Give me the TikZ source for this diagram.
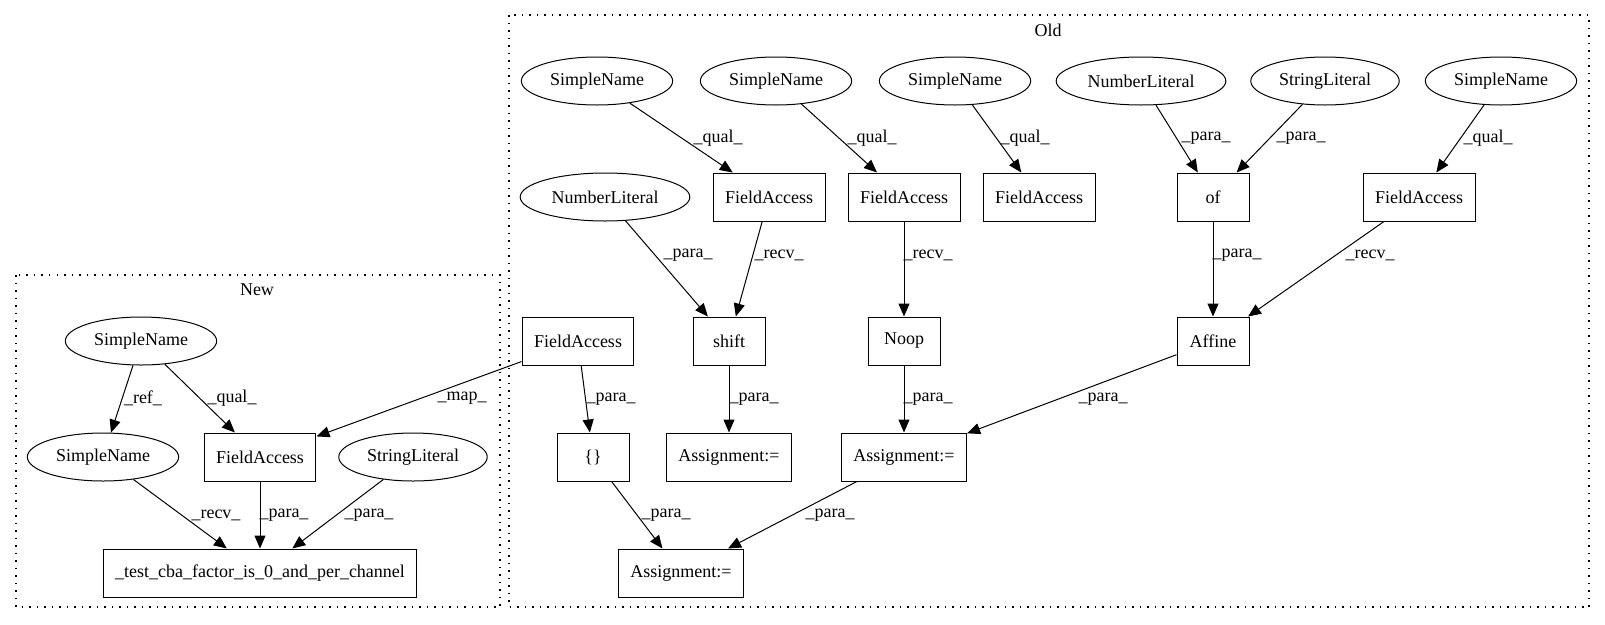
\documentclass[tikz,border=0pt]{standalone}
\usepackage{fontspec}
\setmainfont{Liberation Serif}
\usetikzlibrary{arrows.meta, shapes.geometric}

\begin{document}
\begin{tikzpicture}[
        x=1pt, y=-1pt,
        font=\fontsize{18}{22}\selectfont,
        op/.style={draw, line width=1pt, minimum width=72pt, minimum height=48pt, inner xsep=12pt},
        ast/.style={draw, ellipse, line width=1pt, minimum height=48pt, inner xsep=6.5pt, inner ysep=0pt},
        edge/.style={line width=1pt, -{Triangle[length=13pt, width=11pt]}},
        lbl/.style={inner sep=0pt},
        cluster/.style={line width=1.4pt, dash pattern=on 1.5pt off 6pt}
    ]
        \useasboundingbox (0,0) rectangle (1605,624);

        % Clusters
        \draw[cluster] (16,275) rectangle (500,607);
        \node (newtitle) at (257,290) {New};
        \draw[cluster] (509,15) rectangle (1589,607);
        \node (oldtitle) at (1048,30) {Old};

        % New
        \node[ast] (snA) at (141,341) {SimpleName};
        \node[ast] (snB) at (103,457) {SimpleName};
        \node[op]  (fa6) at (260,457) {FieldAccess};
        \node[ast] (sl1) at (413,457) {StringLiteral};
        \node[op]  (test) at (260,573) {\_test\_cba\_factor\_is\_0\_and\_per\_channel};

        % Old, top row
        \node[ast] (sn1) at (597,81) {SimpleName};
        \node[ast] (sn2) at (776,81) {SimpleName};
        \node[ast] (sn3) at (955,81) {SimpleName};
        \node[ast] (nl2) at (1141,81) {NumberLiteral};
        \node[ast] (sl2) at (1325,81) {StringLiteral};
        \node[ast] (sn4) at (1501,81) {SimpleName};

        % Old, second row
        \node[ast] (nl1) at (605,197) {NumberLiteral};
        \node[op]  (fa1) at (769,197) {FieldAccess};
        \node[op]  (fa2) at (904,197) {FieldAccess};
        \node[op]  (fa3) at (1039,197) {FieldAccess};
        \node[op]  (of)  at (1213,197) {of};
        \node[op]  (fa4) at (1419,197) {FieldAccess};

        % Old, calls
        \node[op] (fa5)    at (578,341) {FieldAccess};
        \node[op] (shift)  at (729,341) {shift};
        \node[op] (noop)   at (904,341) {Noop};
        \node[op] (affine) at (1213,341) {Affine};

        % Old, assignments
        \node[op] (br)  at (593,457) {\{\}};
        \node[op] (as1) at (729,457) {Assignment:=};
        \node[op] (as2) at (904,457) {Assignment:=};
        \node[op] (as3) at (681,573) {Assignment:=};

        % Edges
        \foreach \src/\dst/\txt/\lx/\ly in {
            snA/snB/ref/143/398, snA/fa6/qual/232/398, fa5/fa6/map/462/398,
            snB/test/recv/216/515, fa6/test/para/284/515, sl1/test/para/369/515,
            sn1/fa1/qual/718/138, sn2/fa2/qual/872/138, sn3/fa3/qual/1025/138,
            nl2/of/para/1206/138, sl2/of/para/1301/138, sn4/fa4/qual/1488/138,
            nl1/shift/para/688/255, fa1/shift/recv/779/255, fa2/noop/recv/928/255,
            of/affine/para/1237/255, fa4/affine/recv/1370/255,
            fa5/br/para/611/399, shift/as1/para/754/399, noop/as2/para/928/399,
            affine/as2/para/1103/399, br/as3/para/666/515, as2/as3/para/830/515} {
            \draw[edge] (\src) -- (\dst) node[lbl] at (\lx,\ly) {\_\txt\_};
        }
    \end{tikzpicture}
\end{document}
